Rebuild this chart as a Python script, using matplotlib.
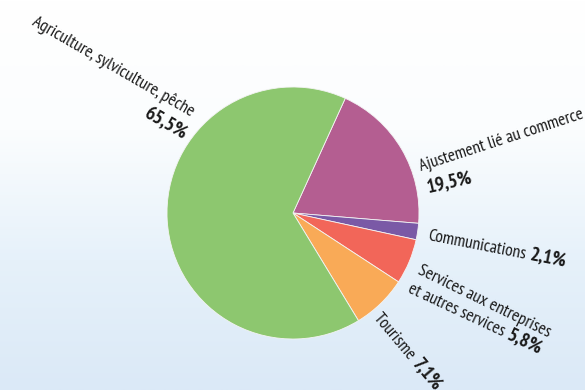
import numpy as np
import matplotlib
matplotlib.use("Agg")
import matplotlib.pyplot as plt
from matplotlib.colors import LinearSegmentedColormap

# Shares by sector (%)
sectors = ["Ajustement lié au commerce", "Communications",
           "Services aux entreprises\net autres services", "Tourisme",
           "Agriculture, sylviculture, pêche"]
shares = [19.5, 2.1, 5.8, 7.1, 65.5]
share_labels = ["19,5%", "2,1%", "5,8%", "7,1%", "65,5%"]
colors = ["#b45e91", "#7a59a6", "#f26659", "#f9aa57", "#8dc76f"]

W, H = 585, 390
FONT = ["PT Sans Narrow", "DejaVu Sans"]
FS = 12.6
FS_BOLD = 14
TXT = "#1a1a1a"

fig = plt.figure(figsize=(W / 100, H / 100), dpi=100)
ax = fig.add_axes([0, 0, 1, 1])

# soft vertical background gradient
grad = np.linspace(0, 1, 256).reshape(-1, 1)
bg = LinearSegmentedColormap.from_list("bg", ["#ffffff", "#fbfdfe", "#e6f1fa", "#dbe9f7"])
ax.imshow(grad, extent=[0, W, 0, H], origin="upper", aspect="auto", cmap=bg, zorder=0)

ax.pie(shares, colors=colors, startangle=65.5, counterclock=False,
       center=(293, 177), radius=126,
       wedgeprops=dict(linewidth=0.6, edgecolor="#f4f4f4", zorder=2))
ax.set_xlim(0, W)
ax.set_ylim(0, H)
ax.set_aspect("equal")
ax.axis("off")

renderer = fig.canvas.get_renderer()


def run(x, y, parts, angle, ha="left"):
    """Draw text pieces one after another along a rotated baseline (y given from the top)."""
    th = np.deg2rad(angle)
    gap = 0.25 * FS * 100 / 72
    cx, cy = x, H - y
    seq = parts if ha == "left" else parts[::-1]
    sign = 1 if ha == "left" else -1
    for txt, wt in seq:
        size = FS_BOLD if wt == "bold" else FS
        t = ax.text(cx, cy, txt, fontsize=size, fontweight=wt, family=FONT,
                    color=TXT, ha=ha, va="baseline", rotation=0,
                    rotation_mode="anchor", zorder=3)
        w = t.get_window_extent(renderer).width + gap
        t.set_rotation(angle)
        cx += sign * w * np.cos(th)
        cy += sign * w * np.sin(th)


# Ajustement lié au commerce
run(421, 170, [(sectors[0], "normal")], 18)
run(428, 192, [(share_labels[0], "bold")], 13)
# Communications
run(427, 240, [(sectors[1], "normal"), (share_labels[1], "bold")], -11)
# Services
l1, l2 = sectors[2].split("\n")
run(417, 273, [(l1, "normal")], -26)
run(407, 292, [(l2, "normal"), (share_labels[2], "bold")], -25)
# Tourisme
run(373, 318, [(sectors[3], "normal"), (share_labels[3], "bold")], -50)
# Agriculture
run(191, 117, [(sectors[4], "normal")], -30, ha="right")
run(183, 140, [(share_labels[4], "bold")], -30, ha="right")

fig.savefig("out.png", dpi=100)
